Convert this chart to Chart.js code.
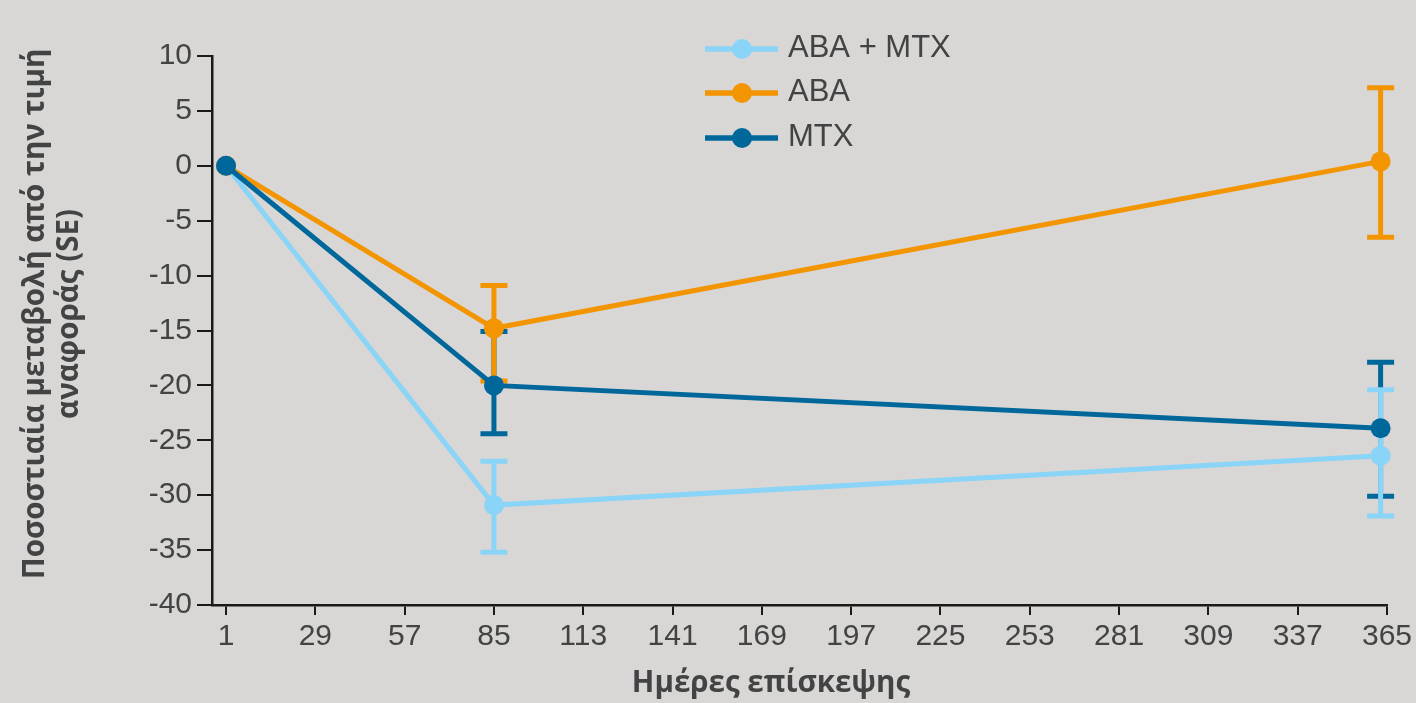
<!DOCTYPE html>
<html>
<head>
<meta charset="utf-8">
<script src="https://cdn.jsdelivr.net/npm/chart.js@4.4.1/dist/chart.umd.min.js"></script>
<style>
  html, body { margin: 0; padding: 0; background: #d8d7d5; }
  #wrap { width: 1416px; height: 703px; }
</style>
</head>
<body>
<div id="wrap"><canvas id="chart" width="1416" height="703"></canvas></div>
<script>
// Visit days (x values) and x-axis tick labels
const days = [1, 85, 363];
const tickDays = [1, 29, 57, 85, 113, 141, 169, 197, 225, 253, 281, 309, 337, 365];

// Series names and colours
const seriesNames = ['ABA + MTX', 'ABA', 'MTX'];
const seriesColors = ['#8ad4f8', '#f29500', '#00679b'];

// Mean percentage change from baseline, with SE bounds
const abaMtxMean = [0, -30.9, -26.4];
const abaMtxLow  = [null, -35.2, -31.9];
const abaMtxHigh = [null, -26.9, -20.4];

const abaMean = [0, -14.8, 0.4];
const abaLow  = [null, -19.6, -6.5];
const abaHigh = [null, -10.9, 7.1];

const mtxMean = [0, -20.0, -23.9];
const mtxLow  = [null, -24.4, -30.1];
const mtxHigh = [null, -15.1, -17.9];

// Axis titles
const yTitleLines = ['Ποσοστιαία μεταβολή από την τιμή', 'αναφοράς (SE)'];
const xTitle = 'Ημέρες επίσκεψης';

const BG = '#d8d7d5';
const TEXT = '#434343';
const AXIS = '#1a1a1a';
const TICK_FONT = "'Liberation Sans', Arial, sans-serif";
const TITLE_FONT = "'Open Sans', 'DejaVu Sans', sans-serif";

const toPoints = (ys) => days.map((d, i) => ({ x: d, y: ys[i] }));

// Error bars: MTX first, then ABA + MTX, then ABA on top
const errorSeries = [
  { color: seriesColors[2], low: mtxLow, high: mtxHigh },
  { color: seriesColors[0], low: abaMtxLow, high: abaMtxHigh },
  { color: seriesColors[1], low: abaLow, high: abaHigh }
];

const background = {
  id: 'background',
  beforeDraw(chart) {
    const ctx = chart.ctx;
    ctx.save();
    ctx.fillStyle = BG;
    ctx.fillRect(0, 0, chart.width, chart.height);
    ctx.restore();
  }
};

const errorBars = {
  id: 'errorBars',
  beforeDatasetsDraw(chart) {
    const { ctx, scales: { x, y } } = chart;
    const cap = 13.5;
    ctx.save();
    ctx.lineWidth = 5;
    ctx.lineCap = 'butt';
    errorSeries.forEach(s => {
      ctx.strokeStyle = s.color;
      days.forEach((d, i) => {
        if (s.low[i] == null || s.high[i] == null) return;
        const px = x.getPixelForValue(d);
        const yl = y.getPixelForValue(s.low[i]);
        const yh = y.getPixelForValue(s.high[i]);
        ctx.beginPath();
        ctx.moveTo(px, yh); ctx.lineTo(px, yl);
        ctx.moveTo(px - cap, yh); ctx.lineTo(px + cap, yh);
        ctx.moveTo(px - cap, yl); ctx.lineTo(px + cap, yl);
        ctx.stroke();
      });
    });
    ctx.restore();
  }
};

const customLegend = {
  id: 'customLegend',
  afterDraw(chart) {
    const ctx = chart.ctx;
    const rows = [49, 93, 138];
    ctx.save();
    seriesNames.forEach((name, i) => {
      const cy = rows[i];
      ctx.strokeStyle = seriesColors[i];
      ctx.lineWidth = 5.5;
      ctx.beginPath();
      ctx.moveTo(705, cy); ctx.lineTo(778, cy);
      ctx.stroke();
      ctx.fillStyle = seriesColors[i];
      ctx.beginPath();
      ctx.arc(742, cy, 10, 0, Math.PI * 2);
      ctx.fill();
      ctx.fillStyle = TEXT;
      ctx.font = '31px ' + TICK_FONT;
      ctx.textAlign = 'left';
      ctx.textBaseline = 'alphabetic';
      ctx.fillText(name, 788, cy + 8);
    });
    ctx.restore();
  }
};

const axisTitles = {
  id: 'axisTitles',
  afterDraw(chart) {
    const ctx = chart.ctx;
    ctx.save();
    ctx.fillStyle = TEXT;
    ctx.font = 'bold 29.5px ' + TITLE_FONT;
    ctx.textAlign = 'center';
    ctx.textBaseline = 'alphabetic';
    ctx.fillText(xTitle, 771, 692);
    ctx.translate(0, 314);
    ctx.rotate(-Math.PI / 2);
    ctx.fillText(yTitleLines[0], 0, 44);
    ctx.fillText(yTitleLines[1], 0, 78);
    ctx.restore();
  }
};

const lineDataset = (label, ys, color, order) => ({
  label,
  data: toPoints(ys),
  borderColor: color,
  backgroundColor: color,
  borderWidth: 5,
  pointRadius: 10,
  pointHoverRadius: 10,
  pointBorderWidth: 0,
  pointBackgroundColor: color,
  tension: 0,
  clip: false,
  order
});

new Chart(document.getElementById('chart'), {
  type: 'line',
  data: {
    datasets: [
      lineDataset(seriesNames[0], abaMtxMean, seriesColors[0], 3),
      lineDataset(seriesNames[1], abaMean, seriesColors[1], 2),
      lineDataset(seriesNames[2], mtxMean, seriesColors[2], 1)
    ]
  },
  options: {
    responsive: false,
    devicePixelRatio: 1,
    animation: false,
    layout: { padding: { left: 0, right: 28, top: 56, bottom: 0 } },
    plugins: { legend: { display: false }, tooltip: { enabled: false } },
    scales: {
      x: {
        type: 'linear',
        min: -3.4,
        max: 365,
        afterBuildTicks(scale) { scale.ticks = tickDays.map(v => ({ value: v })); },
        afterFit(scale) { scale.height = 98; },
        grid: { display: true, drawOnChartArea: false, drawTicks: true, tickLength: 10, color: AXIS, lineWidth: 2 },
        border: { display: true, color: AXIS, width: 2.5 },
        ticks: { color: TEXT, font: { size: 30, family: TICK_FONT }, padding: 4, maxRotation: 0, autoSkip: false }
      },
      y: {
        type: 'linear',
        min: -40,
        max: 10,
        afterFit(scale) { scale.width = 212; },
        grid: { display: true, drawOnChartArea: false, drawTicks: true, tickLength: 15, color: AXIS, lineWidth: 2 },
        border: { display: true, color: AXIS, width: 2.5 },
        ticks: { stepSize: 5, color: TEXT, font: { size: 30, family: TICK_FONT }, padding: 5 }
      }
    }
  },
  plugins: [background, errorBars, customLegend, axisTitles]
});
</script>
</body>
</html>
